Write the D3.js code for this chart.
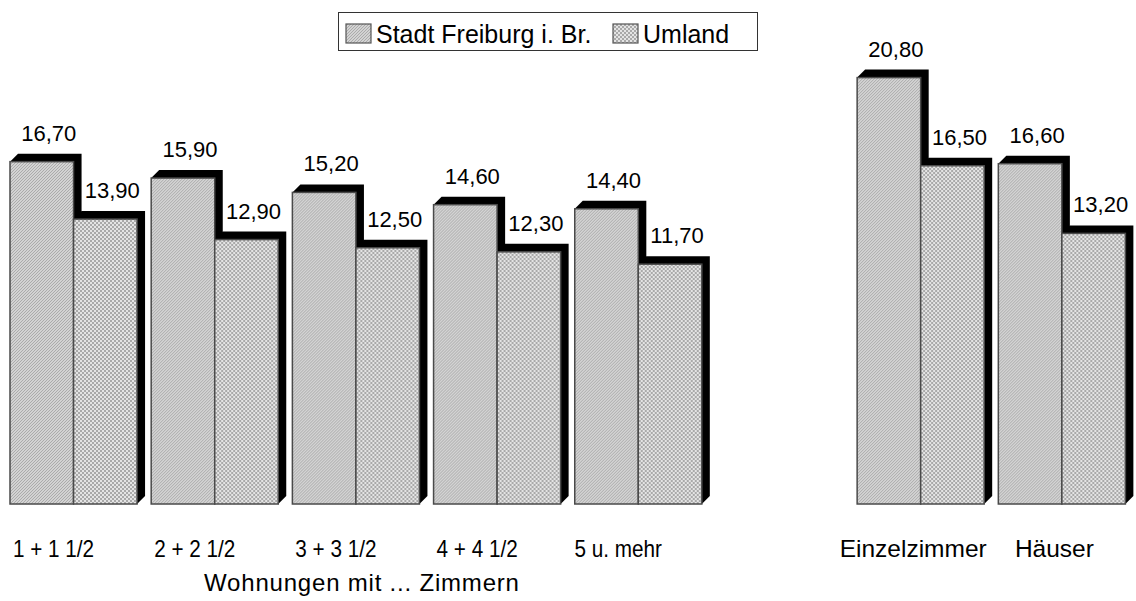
<!DOCTYPE html>
<html>
<head>
<meta charset="utf-8">
<script src="https://cdn.jsdelivr.net/npm/d3@7"></script>
<style>
  html, body { margin: 0; padding: 0; background: #fff; }
  svg { display: block; font-family: "Liberation Sans", Arial, Helvetica, sans-serif; }
</style>
</head>
<body>
<svg id="chart" width="1136" height="601"></svg>
<script>
// ---- data ----
const series = ["Stadt Freiburg i. Br.", "Umland"];
const leftCategories = ["1 + 1 1/2", "2 + 2 1/2", "3 + 3 1/2", "4 + 4 1/2", "5 u. mehr"];
const rightCategories = ["Einzelzimmer", "Häuser"];
const stadtValues = [16.70, 15.90, 15.20, 14.60, 14.40, 20.80, 16.60];
const umlandValues = [13.90, 12.90, 12.50, 12.30, 11.70, 16.50, 13.20];
const valueLabelsStadt = ["16,70", "15,90", "15,20", "14,60", "14,40", "20,80", "16,60"];
const valueLabelsUmland = ["13,90", "12,90", "12,50", "12,30", "11,70", "16,50", "13,20"];
const axisTitle = "Wohnungen mit ... Zimmern";

// ---- layout ----
const svg = d3.select("#chart");
const depth = 8;
const categories = leftCategories.concat(rightCategories);
const slots = leftCategories.concat(["__gap__"], rightCategories);

const x0 = d3.scaleBand().domain(slots).range([10, 1125.4]).paddingInner(0.1).paddingOuter(0);
const x1 = d3.scaleBand().domain(series).range([0, x0.bandwidth()]).padding(0);
const y = d3.scaleLinear().domain([0, 20.8]).range([504, 504 - 20.5 * 20.8]);

// ---- patterns ----
const defs = svg.append("defs");
const pS = defs.append("pattern").attr("id", "patStadt").attr("patternUnits", "userSpaceOnUse")
  .attr("width", 3).attr("height", 3);
pS.append("rect").attr("width", 3).attr("height", 3).attr("fill", "#d3d3d3");
pS.append("path").attr("d", "M-1,1 L1,-1 M0,3 L3,0 M2,4 L4,2").attr("stroke", "#a6a6a6").attr("stroke-width", 0.9);

const pU = defs.append("pattern").attr("id", "patUmland").attr("patternUnits", "userSpaceOnUse")
  .attr("width", 4).attr("height", 4);
pU.append("rect").attr("width", 4).attr("height", 4).attr("fill", "#e4e4e4");
pU.append("rect").attr("x", 0).attr("y", 0).attr("width", 2).attr("height", 2).attr("fill", "#a9a9a9");
pU.append("rect").attr("x", 2).attr("y", 2).attr("width", 2).attr("height", 2).attr("fill", "#a9a9a9");

const fills = { [series[0]]: "url(#patStadt)", [series[1]]: "url(#patUmland)" };

// ---- data rows ----
const rows = categories.map((c, i) => ({
  cat: c,
  bars: [
    { s: series[0], v: stadtValues[i], label: valueLabelsStadt[i] },
    { s: series[1], v: umlandValues[i], label: valueLabelsUmland[i] }
  ]
}));

const groups = svg.append("g").selectAll("g.grp").data(rows).join("g")
  .attr("class", "grp")
  .attr("transform", d => `translate(${x0(d.cat)},0)`);

groups.each(function(d) {
  const g = d3.select(this);
  d.bars.forEach(b => {
    const xl = x1(b.s), xr = xl + x1.bandwidth();
    const yt = y(b.v), yb = y(0);
    // 3D top + side face (black)
    g.append("path")
      .attr("d", `M${xl},${yt} L${xl + depth},${yt - depth} L${xr + depth},${yt - depth} L${xr + depth},${yb - depth} L${xr},${yb} Z`)
      .attr("fill", "#000");
    // front face
    g.append("rect")
      .attr("x", xl).attr("y", yt)
      .attr("width", x1.bandwidth()).attr("height", yb - yt)
      .attr("fill", fills[b.s])
      .attr("stroke", "#4a4a4a").attr("stroke-width", 1.5);
  });
  d.bars.forEach(b => {
    g.append("text")
      .attr("x", x1(b.s) + x1.bandwidth() / 2 + 7)
      .attr("y", y(b.v) - 21)
      .attr("text-anchor", "middle")
      .attr("font-size", 22)
      .attr("fill", "#000")
      .text(b.label);
  });
});

// ---- category labels ----
const isLeft = c => leftCategories.includes(c);
svg.append("g").selectAll("text").data(categories).join("text")
  .attr("transform", c => {
    const cx = x0(c) + x0.bandwidth() / 2 + (isLeft(c) ? -20 : -7.5);
    return isLeft(c) ? `translate(${cx},557) scale(0.9,1)` : `translate(${cx},557)`;
  })
  .attr("text-anchor", "middle")
  .attr("font-size", c => isLeft(c) ? 23 : 24.5)
  .attr("fill", "#000")
  .text(c => c);

// axis title centred under left group
const leftStart = x0(leftCategories[0]);
const leftEnd = x0(leftCategories[leftCategories.length - 1]) + x0.bandwidth();
svg.append("text")
  .attr("x", (leftStart + leftEnd) / 2 + 6)
  .attr("y", 591)
  .attr("text-anchor", "middle")
  .attr("font-size", 24)
  .attr("letter-spacing", 0.8)
  .attr("fill", "#000")
  .text(axisTitle);

// ---- legend ----
const lg = svg.append("g");
lg.append("rect").attr("x", 338.5).attr("y", 12.5).attr("width", 419).attr("height", 38)
  .attr("fill", "#fff").attr("stroke", "#333").attr("stroke-width", 1);
const legendX = [346, 613];
series.forEach((s, i) => {
  lg.append("rect").attr("x", legendX[i]).attr("y", 24).attr("width", 25).attr("height", 19)
    .attr("fill", fills[s]).attr("stroke", "#555").attr("stroke-width", 1.2);
  lg.append("text").attr("x", legendX[i] + 30).attr("y", 43)
    .attr("font-size", 25).attr("fill", "#000").text(s);
});
</script>
</body>
</html>
